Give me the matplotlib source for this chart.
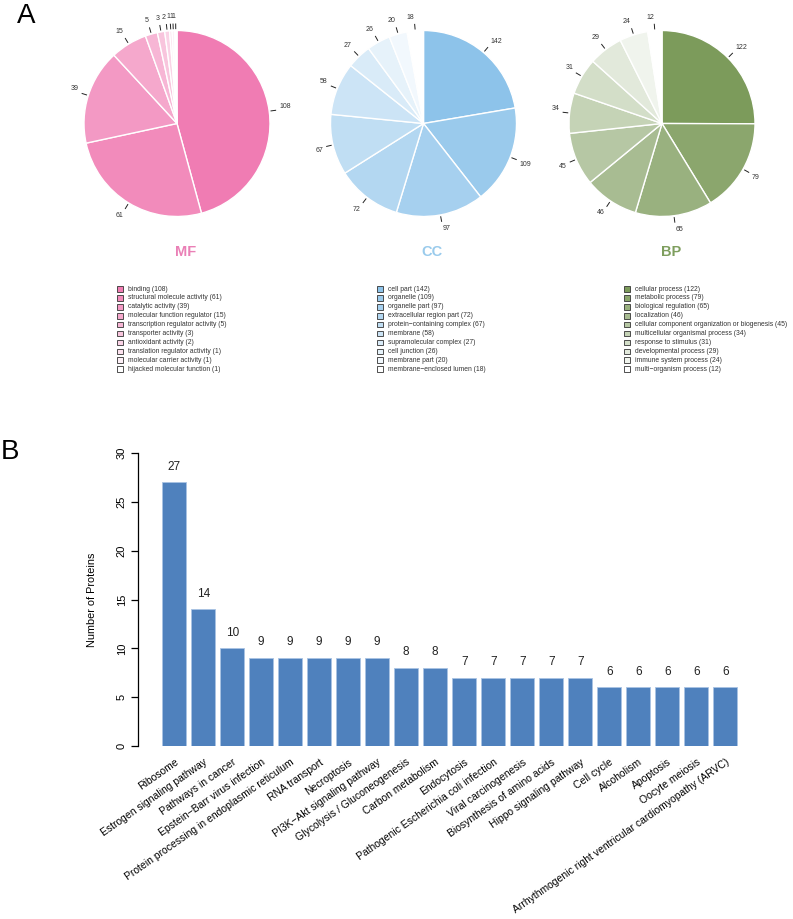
import numpy as np
import matplotlib
matplotlib.use("Agg")
import matplotlib.pyplot as plt
from matplotlib.colors import to_rgb
from matplotlib.patches import Rectangle

plt.rcParams['font.family'] = ['Liberation Sans', 'DejaVu Sans']

# GO categories
mf_terms = ["binding", "structural molecule activity", "catalytic activity",
            "molecular function regulator", "transcription regulator activity",
            "transporter activity", "antioxidant activity",
            "translation regulator activity", "molecular carrier activity",
            "hijacked molecular function"]
mf_counts = [108, 61, 39, 15, 5, 3, 2, 1, 1, 1]

cc_terms = ["cell part", "organelle", "organelle part", "extracellular region part",
            "protein\u2212containing complex", "membrane", "supramolecular complex",
            "cell junction", "membrane part", "membrane\u2212enclosed lumen"]
cc_counts = [142, 109, 97, 72, 67, 58, 27, 26, 20, 18]

bp_terms = ["cellular process", "metabolic process", "biological regulation",
            "localization", "cellular component organization or biogenesis",
            "multicellular organismal process", "response to stimulus",
            "developmental process", "immune system process", "multi\u2212organism process"]
bp_counts = [122, 79, 65, 46, 45, 34, 31, 29, 24, 12]

# KEGG pathways
pathways = ["Ribosome", "Estrogen signaling pathway", "Pathways in cancer",
            "Epstein\u2212Barr virus infection", "Protein processing in endoplasmic reticulum",
            "RNA transport", "Necroptosis", "PI3K\u2212Akt signaling pathway",
            "Glycolysis / Gluconeogenesis", "Carbon metabolism", "Endocytosis",
            "Pathogenic Escherichia coli infection", "Viral carcinogenesis",
            "Biosynthesis of amino acids", "Hippo signaling pathway", "Cell cycle",
            "Alcoholism", "Apoptosis", "Oocyte meiosis",
            "Arrhythmogenic right ventricular cardiomyopathy (ARVC)"]
n_proteins = [27, 14, 10, 9, 9, 9, 9, 9, 8, 8, 7, 7, 7, 7, 7, 6, 6, 6, 6, 6]

W, H = 793, 919
fig = plt.figure(figsize=(W / 100, H / 100), dpi=100)


def px_box(x0, y0, x1, y1):
    # pixel box (top-left origin) -> figure fraction rect
    return [x0 / W, 1 - y1 / H, (x1 - x0) / W, (y1 - y0) / H]


def shades(base, n):
    b = np.array(to_rgb(base))
    return [tuple(b + (1 - b) * i / (n - 1)) for i in range(n)]


def draw_pie(cx, cy, r, counts, base, title, title_col, terms, leg_x):
    lim = 1.35
    ax = fig.add_axes(px_box(cx - r * lim, cy - r * lim, cx + r * lim, cy + r * lim))
    cols = shades(base, len(counts))
    wedges, _ = ax.pie(counts, colors=cols, startangle=90, counterclock=False,
                       wedgeprops=dict(edgecolor='white', linewidth=1.0))
    for w, c in zip(wedges, counts):
        ang = np.deg2rad((w.theta1 + w.theta2) / 2)
        x, y = np.cos(ang), np.sin(ang)
        ax.plot([1.02 * x, 1.07 * x], [1.02 * y, 1.07 * y], color='#222222', lw=0.7)
        ax.text(1.11 * x, 1.11 * y, str(c), fontsize=5, color='#333333',
                ha='left' if x >= 0 else 'right', va='bottom' if y >= 0 else 'top')
    ax.set_xlim(-lim, lim)
    ax.set_ylim(-lim, lim)
    ax.set_aspect('equal')
    ax.axis('off')

    fig.text((cx + 9) / W, 1 - 252 / H, title, fontsize=10.5, fontweight='bold',
             color=title_col, ha='center', va='center')

    for i, (t, c) in enumerate(zip(terms, counts)):
        yy = 289 + i * 8.9
        fig.patches.append(Rectangle((leg_x / W, 1 - (yy + 2.8) / H), 5.6 / W, 5.6 / H,
                                     transform=fig.transFigure, facecolor=cols[i],
                                     edgecolor='#333333', linewidth=0.6))
        fig.text((leg_x + 11) / W, 1 - yy / H, f"{t} ({c})", fontsize=4.9,
                 color='#333333', ha='left', va='center')


draw_pie(177, 123.5, 93, mf_counts, '#F07CB3', 'MF', '#EA80B6', mf_terms, 117)
draw_pie(423.5, 123.5, 93, cc_counts, '#8DC3EA', 'CC', '#9ACBEC', cc_terms, 377)
draw_pie(662, 123.5, 93, bp_counts, '#7C9B5B', 'BP', '#7E9E5E', bp_terms, 624)

fig.text(17 / W, 1 - 3 / H, "A", fontsize=20, ha='left', va='top')
fig.text(1 / W, 1 - 452 / H, "B", fontsize=20, ha='left', va='center')

# bar chart
ax = fig.add_axes(px_box(138, 453, 760, 746))
x = np.arange(len(pathways))
bars = ax.bar(x, n_proteins, width=0.845, color='#4F81BD', edgecolor='#A9C3E3', linewidth=0.6)
ax.bar_label(bars, labels=[str(v) for v in n_proteins], padding=7, fontsize=8.5, color='#222222')
ax.set_xlim(-1.25, 20.2)
ax.set_ylim(0, 30)
ax.set_yticks([0, 5, 10, 15, 20, 25, 30])
for s in ['top', 'right', 'bottom']:
    ax.spines[s].set_visible(False)
ax.spines['left'].set_bounds(0, 30)
ax.spines['left'].set_linewidth(0.9)
ax.tick_params(axis='y', length=5, width=0.9, labelsize=8, pad=3)
for lab in ax.get_yticklabels():
    lab.set_rotation(90)
    lab.set_va('center')
ax.set_ylabel("Number of Proteins", fontsize=7.8, labelpad=14)
ax.set_xticks(x)
ax.set_xticklabels(pathways, fontsize=7.5, rotation=35, ha='right', va='top',
                   rotation_mode='anchor')
ax.tick_params(axis='x', length=0, pad=8)

fig.savefig("out.png", dpi=100)
